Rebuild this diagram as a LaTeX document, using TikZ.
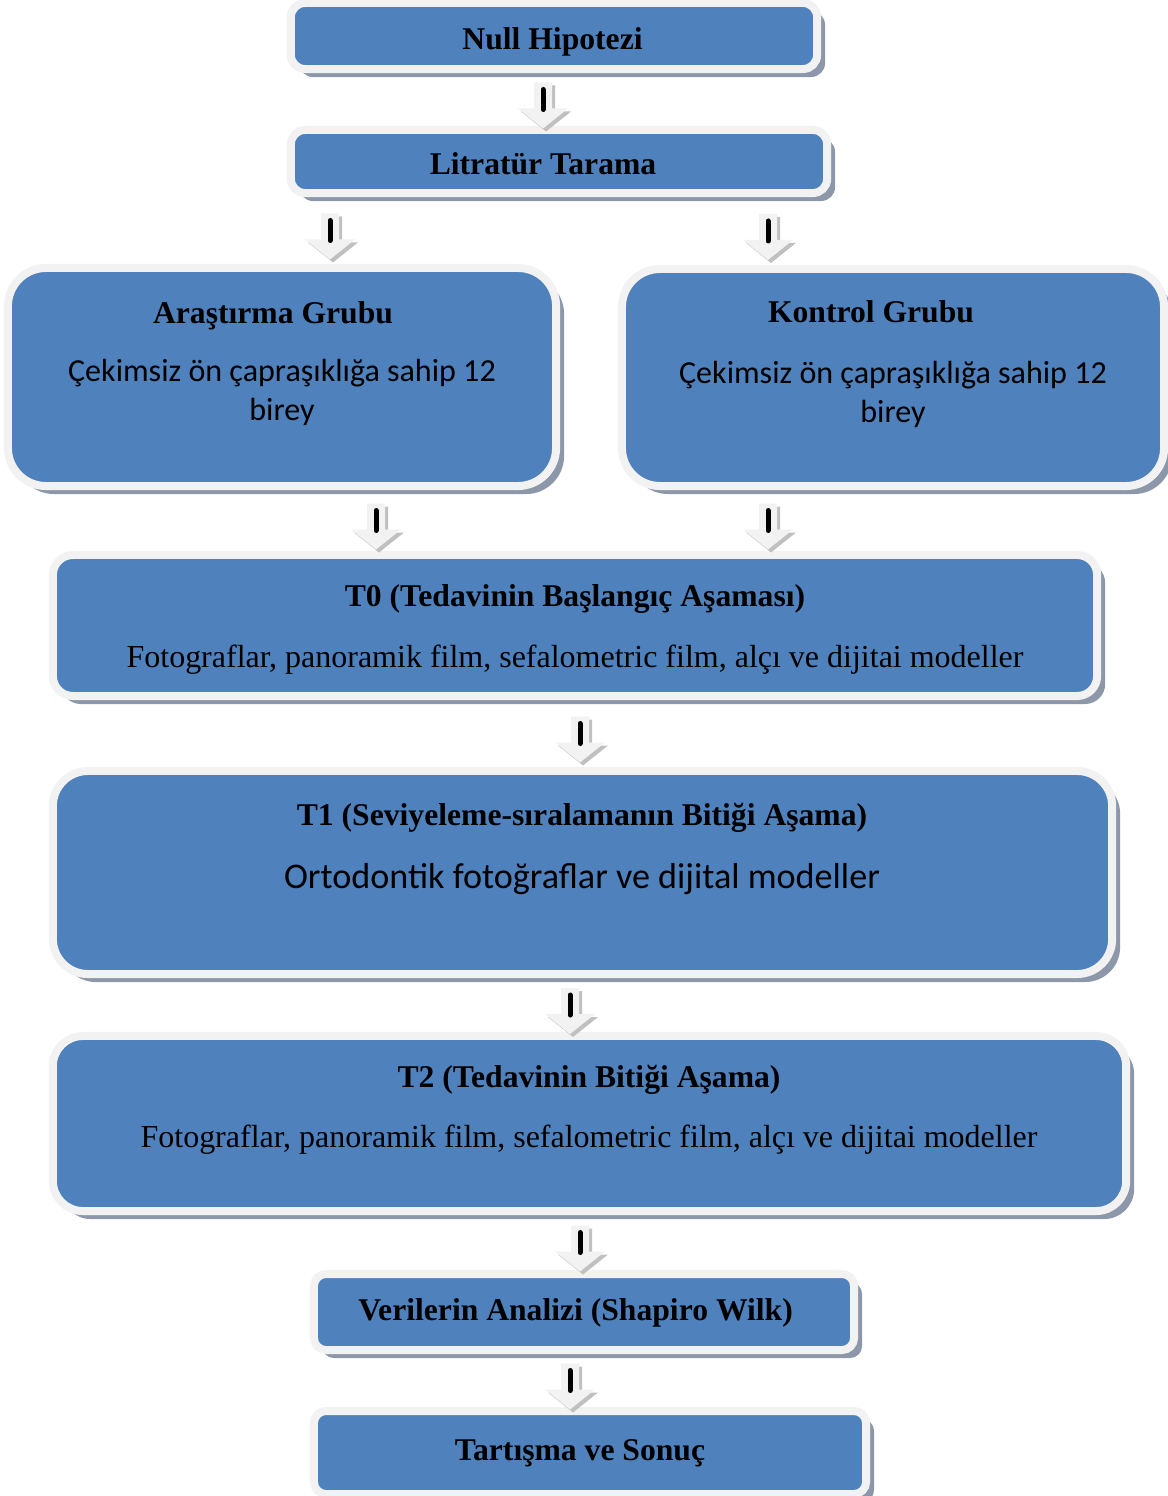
\documentclass[tikz,border=0pt]{standalone}
\usepackage{fontspec}
\setmainfont{Liberation Serif}
\newfontfamily\calibrifont{Carlito}
\usepackage{tikz}
\usetikzlibrary{calc,shadows}
\usepackage{xcolor}

\definecolor{boxblue}{RGB}{79,129,189}
\definecolor{boxrim}{RGB}{242,242,242}
\definecolor{boxshadow}{RGB}{140,152,170}
\definecolor{arrlight}{RGB}{242,242,242}
\definecolor{arrshade}{RGB}{192,192,192}

% block arrow in the gap between two boxes, at shaft position #1
\newcommand{\flowarrow}[3]{%
  \coordinate (fa) at ($(#1,0 |- #2.south)!0.5!(#1,0 |- #3.north)+(0,6)$);
  \begin{scope}[shift={(fa)}]
    \foreach \sh/\clr in {3/arrshade,0/arrlight}
      \fill[\clr,shift={(\sh,\sh)}] (-9,-23) -- (9,-23) -- (9,3) -- (25,3) -- (0,23) -- (-25,3) -- (-9,3) -- cycle;
    \draw[line width=0.125cm,line cap=round] (0,-16) -- (0,4);
  \end{scope}}

\begin{document}
\begin{tikzpicture}[
    x=0.025cm, y=-0.025cm,
    box/.style={draw=boxrim,fill=boxblue,line width=0.2cm,
                drop shadow={shadow xshift=0.2cm,shadow yshift=-0.2cm,
                             fill=boxshadow,opacity=1}},
    head/.style={font=\fontsize{22.5}{27}\selectfont\bfseries,
                 text height=20pt,text depth=3.8pt},
    body/.style={font=\fontsize{22.75}{27}\selectfont,
                 text height=20pt,text depth=3.8pt},
    sbody/.style={font=\calibrifont\fontsize{22.8}{27.7}\selectfont,align=center,
                  text height=15.5pt,text depth=5pt}
  ]
    \useasboundingbox (0,0) rectangle (1167,1496);

    % boxes
    \node[box,rounded corners=0.35cm,minimum width=13.15cm,minimum height=1.65cm] (nh) at (554,36) {};
    \node[box,rounded corners=0.35cm,minimum width=13.4cm,minimum height=1.575cm] (lt) at (559,161.5) {};
    \node[box,rounded corners=0.95cm,minimum width=13.7cm,minimum height=5.45cm] (ag) at (282,377) {};
    \node[box,rounded corners=0.95cm,minimum width=13.55cm,minimum height=5.425cm] (kg) at (893,377.5) {};
    \node[box,rounded corners=0.5cm,minimum width=26.1cm,minimum height=3.525cm] (t0) at (575,625.5) {};
    \node[box,rounded corners=0.875cm,minimum width=26.475cm,minimum height=5.075cm] (t1) at (582.5,872.5) {};
    \node[box,rounded corners=0.75cm,minimum width=26.825cm,minimum height=4.375cm] (t2) at (589.5,1123.5) {};
    \node[box,rounded corners=0.3cm,minimum width=13.5cm,minimum height=1.9cm] (va) at (584,1312) {};
    \node[box,rounded corners=0.3cm,minimum width=13.8cm,minimum height=2.075cm] (ts) at (590,1452.5) {};

    % texts
    \node[head] (nht) at (552.5,38) {Null Hipotezi};
    \node[head] (ltt) at (543,163) {Litratür Tarama};
    \node[head] (agh) at (273,312) {Araştırma Grubu};
    \node[sbody] (agb) at (282,413.5) {Çekimsiz ön çapraşıklığa sahip 12\\birey};
    \node[head] (kgh) at (871,311) {Kontrol Grubu};
    \node[sbody] (kgb) at (893,415.5) {Çekimsiz ön çapraşıklığa sahip 12\\birey};
    \node[head] (t0h) at (575,595) {T0 (Tedavinin Başlangıç Aşaması)};
    \node[body] (t0b) at (575,656) {Fotograflar, panoramik film, sefalometric film, alçı ve dijitai modeller};
    \node[head] (t1h) at (582,814) {T1 (Seviyeleme-sıralamanın Bitiği Aşama)};
    \node[body,font=\calibrifont\fontsize{25.7}{30}\selectfont] (t1b) at (582,877) {Ortodontik fotoğraflar ve dijital modeller};
    \node[head] (t2h) at (589,1076) {T2 (Tedavinin Bitiği Aşama)};
    \node[body] (t2b) at (589,1136) {Fotograflar, panoramik film, sefalometric film, alçı ve dijitai modeller};
    \node[head] (vat) at (575.5,1309) {Verilerin Analizi (Shapiro Wilk)};
    \node[head] (tst) at (580,1449) {Tartışma ve Sonuç};

    \foreach \x/\a/\b in {543/nh/lt,330/lt/ag,768/lt/kg,376/ag/t0,768/kg/t0,
                          580/t0/t1,570/t1/t2,580/t2/va,570/va/ts}
      \flowarrow{\x}{\a}{\b};
  \end{tikzpicture}
\end{document}
